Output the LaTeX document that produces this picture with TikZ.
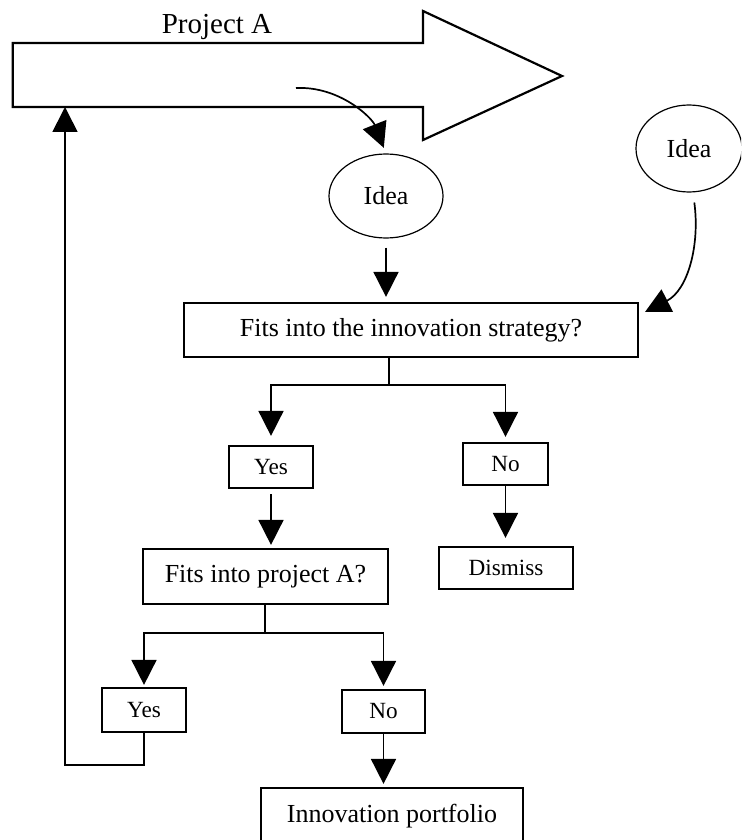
\documentclass[tikz,border=0pt]{standalone}
\usepackage{fontspec}
\setmainfont{Liberation Serif}
\usetikzlibrary{arrows.meta,shapes.geometric}
\begin{document}
\begin{tikzpicture}[x=0.5pt,y=-0.5pt,
  box/.style={draw, line width=1.1pt, inner sep=0pt, font=\fontsize{13}{15}\selectfont},
  smallbox/.style={draw, line width=1.1pt, inner sep=0pt, font=\fontsize{11.6}{13}\selectfont},
  idea/.style={draw, ellipse, line width=0.6pt, inner sep=0pt, font=\fontsize{13}{15}\selectfont},
  conn/.style={line width=0.85pt, -{Triangle[length=12.5pt,width=12.5pt]}},
  link/.style={line width=0.85pt}]
\useasboundingbox (0,0) rectangle (741,840);
\clip (0,0) rectangle (741,840);

% project arrow
\draw[line width=1.1pt] (12.7,43) -- (423,43) -- (423,11) -- (562,76) -- (423,140)
  -- (423,107) -- (12.7,107) -- cycle;
\node[font=\fontsize{14.5}{16}\selectfont] (ptitle) at (217,27) {Project A};
\coordinate (src) at (296,88);
\coordinate (shaft) at (65,107);

% ideas
\node[idea, minimum width=57pt, minimum height=42pt] (idea1) at (386,196) {Idea};
\node[idea, minimum width=53pt, minimum height=43.5pt] (idea2) at (689,148.5) {Idea};

% decision boxes
\node[box, minimum width=227pt, minimum height=27pt] (main) at (411,330)
  {Fits into the innovation strategy?};
\node[smallbox, minimum width=42pt, minimum height=21pt] (yes1) at (271,467) {Yes};
\node[smallbox, minimum width=42.5pt, minimum height=21pt] (no1) at (505.5,464) {No};
\node[smallbox, minimum width=67pt, minimum height=21pt] (dismiss) at (506,568) {Dismiss};
\node[box, minimum width=122.5pt, minimum height=27.5pt] (proja) at (265.5,576.5)
  {Fits into project A?};
\node[smallbox, minimum width=42pt, minimum height=22pt] (yes2) at (144,710) {Yes};
\node[smallbox, minimum width=41.5pt, minimum height=21.5pt] (no2) at (383.5,711.5) {No};
\node[box, minimum width=131pt, minimum height=28pt] (port) at (392,816)
  {Innovation portfolio};

% connectors into the strategy check
\draw[conn, shorten >=3pt] (src) .. controls (340,86) and (372,118) .. (idea1.north);
\draw[conn, shorten <=4.5pt, shorten >=2.5pt] (idea1.south) -- (idea1.south |- main.north);
\coordinate (c2) at (645,312);
\draw[conn, shorten <=5pt] ([xshift=2pt]idea2.south) .. controls (700,245) and (688,290) .. (c2);

% first branching
\coordinate (b1) at (389,385);
\draw[link] (main.south -| b1) -- (b1);
\draw[conn, shorten >=4.5pt] (b1) -| (yes1.north);
\draw[conn, shorten >=2.5pt] (b1) -| (no1.north);
\draw[conn, shorten <=2.5pt, shorten >=1.5pt] (yes1.south) -- (yes1.south |- proja.north);
\draw[conn, shorten >=4pt] (no1.south) -- (no1.south |- dismiss.north);

% second branching
\coordinate (b2) at (265,633);
\draw[link] (proja.south -| b2) -- (b2);
\draw[conn, shorten >=1pt] (b2) -| (yes2.north);
\draw[conn, shorten >=1.5pt] (b2) -| (no2.north);
\draw[conn, shorten >=1.5pt] (no2.south) -- (no2.south |- port.north);

% feedback loop into the project
\coordinate (loopc) at (65,765);
\draw[conn] (yes2.south) |- (loopc) -- (shaft);
\end{tikzpicture}
\end{document}
